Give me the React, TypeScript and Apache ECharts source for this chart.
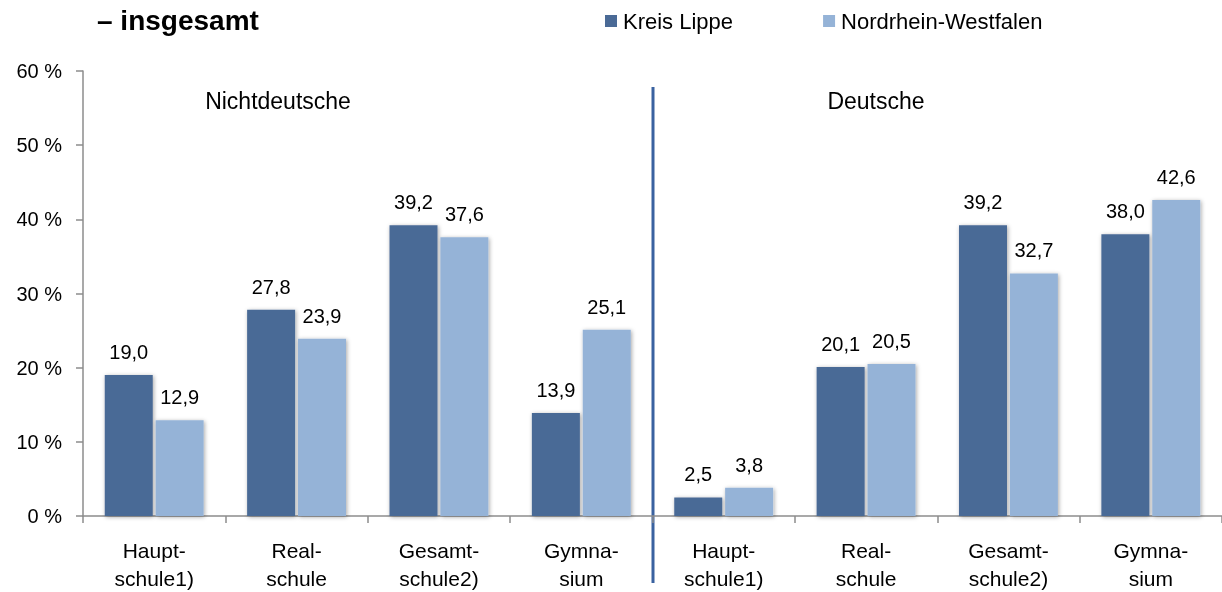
import React, { useEffect, useRef } from "react";
import * as echarts from "echarts";

const categories = [
  "Haupt-\nschule1)", "Real-\nschule", "Gesamt-\nschule2)", "Gymna-\nsium",
  "Haupt-\nschule1)", "Real-\nschule", "Gesamt-\nschule2)", "Gymna-\nsium",
];
const kreisLippe = [19.0, 27.8, 39.2, 13.9, 2.5, 20.1, 39.2, 38.0];
const nrw = [12.9, 23.9, 37.6, 25.1, 3.8, 20.5, 32.7, 42.6];
const seriesNames = ["Kreis Lippe", "Nordrhein-Westfalen"];
const groupTitles = ["Nichtdeutsche", "Deutsche"];
const title = "– insgesamt";

const FONT = "'Liberation Sans', Arial, sans-serif";

export default function App() {
  const ref = useRef<HTMLDivElement>(null);
  useEffect(() => {
    if (!ref.current) return;
    const chart = echarts.init(ref.current, undefined, { renderer: "svg" });
    const fmt = (p: any) => p.value.toFixed(1).replace(".", ",");
    const label = {
      show: true,
      position: "top",
      distance: 13,
      formatter: fmt,
      fontFamily: FONT,
      fontSize: 20,
      color: "#000",
    };
    const shadow = {
      shadowBlur: 4,
      shadowColor: "rgba(0,0,0,0.35)",
      shadowOffsetX: 1,
      shadowOffsetY: 1,
    };
    chart.setOption({
      animation: false,
      textStyle: { fontFamily: FONT },
      title: {
        text: title,
        left: 92,
        top: 1,
        textStyle: { fontFamily: FONT, fontSize: 28, fontWeight: "bold", color: "#000" },
      },
      legend: {
        data: seriesNames,
        left: 600,
        top: 5,
        itemWidth: 12,
        itemHeight: 12,
        itemGap: 90,
        icon: "rect",
        textStyle: { fontFamily: FONT, fontSize: 22, color: "#000", padding: [0, 0, 0, 1] },
      },
      grid: { left: 83, top: 71, bottom: 75, width: 1140 },
      xAxis: {
        type: "category",
        data: categories,
        axisLine: { lineStyle: { color: "#8c8c8c", width: 1.5 } },
        axisTick: { show: true, length: 7, lineStyle: { color: "#8c8c8c", width: 1.5 } },
        axisLabel: {
          fontFamily: FONT,
          fontSize: 21,
          color: "#000",
          lineHeight: 28,
          margin: 20,
          interval: 0,
        },
      },
      yAxis: {
        type: "value",
        min: 0,
        max: 60,
        interval: 10,
        axisLine: { show: true, lineStyle: { color: "#8c8c8c", width: 1.5 } },
        axisTick: { show: true, length: 7, lineStyle: { color: "#8c8c8c", width: 1.5 } },
        splitLine: { show: false },
        axisLabel: {
          formatter: "{value} %",
          fontFamily: FONT,
          fontSize: 20,
          color: "#000",
          margin: 21,
        },
      },
      series: [
        {
          name: seriesNames[0],
          type: "bar",
          data: kreisLippe,
          barWidth: 48,
          barGap: "6%",
          itemStyle: { color: "#4A6A96", ...shadow },
          label,
        },
        {
          name: seriesNames[1],
          type: "bar",
          data: nrw,
          barWidth: 48,
          barGap: "6%",
          itemStyle: { color: "#95B3D7", ...shadow },
          label,
        },
      ],
      graphic: [
        {
          type: "line",
          shape: { x1: 653, y1: 87, x2: 653, y2: 583 },
          style: { stroke: "#3A62A0", lineWidth: 3 },
        },
        {
          type: "text",
          x: 278,
          y: 101,
          style: {
            text: groupTitles[0],
            fontFamily: FONT,
            fontSize: 23,
            fill: "#000",
            align: "center",
            verticalAlign: "middle",
          },
        },
        {
          type: "text",
          x: 876,
          y: 101,
          style: {
            text: groupTitles[1],
            fontFamily: FONT,
            fontSize: 23,
            fill: "#000",
            align: "center",
            verticalAlign: "middle",
          },
        },
      ],
    });
    return () => chart.dispose();
  }, []);
  return (
    <div
      ref={ref}
      style={{ position: "fixed", left: 0, top: 0, width: 1222, height: 592 }}
    />
  );
}
